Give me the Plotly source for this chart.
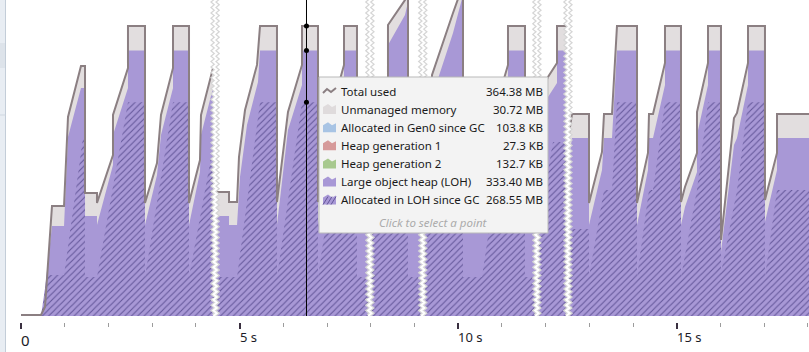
import numpy as np
import plotly.graph_objects as go

# ---------------- data (seconds, MB) ----------------
total_t = [0, 0.457, 0.549, 0.709, 0.984, 1.075, 1.372, 1.464, 1.464, 1.738, 1.738, 2.104, 2.104, 2.447, 2.447,
           2.836, 2.836, 3.111, 3.202, 3.477, 3.477, 3.843, 3.843, 4.094, 4.117, 4.392, 4.437,
           4.460, 4.758, 4.758, 4.941, 4.986, 5.124, 5.398, 5.467, 5.855, 5.855, 6.107, 6.427, 6.427,
           6.793, 6.793, 7.068, 7.091, 7.388, 7.388, 7.685, 7.685, 8.028,
           8.211, 8.394, 8.394, 8.783, 8.852, 8.852, 9.241,
           9.355, 9.401, 9.881, 10.110, 10.110, 10.544, 10.544, 10.819, 10.819, 11.139, 11.139,
           11.528, 11.528, 11.825,
           11.871, 12.054, 12.260, 12.260, 12.489,
           12.511, 12.603, 12.992, 12.992, 13.289, 13.335, 13.518, 13.632, 14.090, 14.090, 14.341,
           14.364, 14.456, 14.730, 14.730, 15.096, 15.096, 15.187, 15.462, 15.462, 15.714, 15.714,
           16.011, 16.011, 16.308, 16.377, 16.629, 16.629, 17.017, 17.017, 17.292, 17.292, 18.024]
total_mb = [1.3, 1.3, 11.3, 138.2, 138.2, 250.0, 314.1, 314.1, 154.5, 154.5, 142.0, 202.3, 252.5, 311.6, 364.4,
            364.4, 142.0, 192.2, 252.5, 311.6, 364.4, 364.4, 142.0, 196.0, 252.5, 311.6, 316.6,
            155.8, 155.8, 143.2, 143.2, 199.8, 258.8, 315.4, 364.4, 364.4, 143.2, 256.3, 315.4, 364.4,
            364.4, 143.2, 202.3, 256.3, 315.4, 364.4, 364.4, 143.2, 143.2,
            208.6, 300.3, 365.6, 397.0, 409.6, 143.2, 143.2,
            208.6, 302.8, 380.7, 415.9, 154.5, 154.5, 142.0, 202.3, 255.1, 315.4, 364.4,
            364.4, 143.2, 143.2,
            275.2, 300.3, 317.9, 364.4, 364.4,
            221.1, 253.8, 253.8, 142.0, 206.1, 253.8, 253.8, 364.4, 364.4, 142.0, 204.8,
            253.8, 253.8, 317.9, 364.4, 364.4, 143.2, 162.1, 204.8, 256.3, 317.9, 364.4,
            364.4, 95.5, 248.8, 255.1, 317.9, 364.4, 364.4, 145.7, 204.8, 253.8, 253.8]

loh_t = [0, 0.480, 0.709, 0.984, 1.075, 1.372, 1.464, 1.464, 1.738, 1.738, 2.104, 2.104, 2.447, 2.447,
         2.836, 2.836, 3.111, 3.202, 3.477, 3.477, 3.843, 3.843, 4.094, 4.117, 4.392, 4.437,
         4.460, 4.758, 4.758, 4.941, 5.009, 5.169, 5.421, 5.467, 5.855, 5.855, 6.107, 6.427, 6.427,
         6.793, 6.793, 7.068, 7.091, 7.388, 7.388, 7.685, 7.685, 8.028,
         8.211, 8.394, 8.394, 8.783, 8.852, 8.852, 9.241,
         9.355, 9.401, 9.881, 10.110, 10.110, 10.544, 10.544, 10.819, 10.819, 11.139, 11.139,
         11.528, 11.528, 11.825,
         11.871, 12.054, 12.260, 12.260, 12.489,
         12.511, 12.603, 12.992, 12.992, 13.289, 13.335, 13.518, 13.632, 14.090, 14.090, 14.341,
         14.364, 14.456, 14.730, 14.730, 15.096, 15.096, 15.187, 15.462, 15.462, 15.714, 15.714,
         16.011, 16.011, 16.308, 16.377, 16.629, 16.629, 17.017, 17.017, 17.292, 17.292, 18.024]
loh_mb = [0, 0, 113.1, 113.1, 224.9, 286.5, 286.5, 125.6, 125.6, 114.3, 189.7, 227.4, 286.5, 333.4,
          333.4, 114.3, 177.2, 227.4, 286.5, 333.4, 333.4, 114.3, 180.9, 227.4, 286.5, 291.5,
          125.6, 125.6, 114.3, 114.3, 174.6, 240.0, 294.0, 333.4, 333.4, 114.3, 233.7, 290.2, 333.4,
          333.4, 114.3, 183.4, 233.7, 290.2, 333.4, 333.4, 114.3, 114.3,
          183.4, 275.2, 340.5, 378.2, 394.5, 114.3, 114.3,
          180.9, 275.2, 355.6, 403.3, 125.6, 125.6, 114.3, 183.4, 227.4, 290.2, 333.4,
          333.4, 114.3, 114.3,
          248.8, 275.2, 292.7, 333.4, 333.4,
          189.7, 223.6, 223.6, 114.3, 183.4, 223.6, 223.6, 333.4, 333.4, 114.3, 183.4,
          223.6, 223.6, 290.2, 333.4, 333.4, 114.3, 137.0, 180.9, 227.4, 290.2, 333.4,
          333.4, 80.4, 214.8, 223.6, 290.2, 333.4, 333.4, 118.1, 183.4, 223.6, 223.6]

loh_gc_t = [0, 0.457, 0.595, 0.984, 1.418, 1.464, 1.464, 1.738, 2.447, 2.836, 2.836, 3.477, 3.843, 3.843,
            4.392, 4.437,
            4.460, 4.941, 5.467, 5.855, 5.855, 6.427, 6.793, 6.793, 7.388, 7.685, 7.685, 7.983,
            8.028, 8.852, 8.852, 9.172,
            9.241, 10.110, 10.110, 10.544, 11.139, 11.528, 11.528, 11.780,
            11.825, 12.168, 12.489,
            12.511, 12.992, 12.992, 13.335, 13.518, 13.632, 14.090, 14.090, 14.364, 14.456, 14.730,
            15.096, 15.096, 15.462, 15.714, 16.011, 16.011, 16.377, 16.629, 17.017, 17.017, 17.292, 18.024]
loh_gc_mb = [0, 0, 51.5, 51.5, 223.6, 223.6, 49.0, 49.0, 268.55, 268.55, 49.0, 268.55, 268.55, 49.0,
             212.3, 216.1,
             49.0, 49.0, 268.55, 268.55, 49.0, 268.55, 268.55, 49.0, 268.55, 268.55, 49.0, 49.0,
             101.8, 258.8, 49.0, 49.0,
             105.5, 258.8, 49.0, 49.0, 268.55, 268.55, 49.0, 49.0,
             108.1, 218.6, 218.6,
             109.3, 109.3, 49.0, 158.3, 158.3, 268.55, 268.55, 49.0, 158.3, 158.3, 268.55,
             268.55, 49.0, 158.3, 268.55, 268.55, 54.0, 158.3, 268.55, 268.55, 49.0, 158.3, 158.3]

break_t = [4.44, 7.98, 9.19, 11.80, 12.51]

hover_t = 6.53
hover_vals = [364.38, 333.40, 268.55]

tick_vals = [0, 5, 10, 15]
tick_text = ["0", "5 s", "10 s", "15 s"]

legend_names = ["Total used", "Unmanaged memory", "Allocated in Gen0 since GC", "Heap generation 1",
                "Heap generation 2", "Large object heap (LOH)", "Allocated in LOH since GC"]
legend_values = ["364.38 MB", "30.72 MB", "103.8 KB", "27.3 KB", "132.7 KB", "333.40 MB", "268.55 MB"]
legend_colors = ["#8b7f82", "#dfdbdc", "#a8c4e4", "#d69a9a", "#a8c98f", "#a898d6", "#a898d6"]

# ---------------- layout helpers ----------------
W, H = 809, 352
PL, PR = 21, 809
PB = 322          # paper bottom in px
PLOT_BOTTOM = 316
X_MAX = 18.024
Y_MAX = 397.0

def fx(p):
    return (p - PL) / (PR - PL)

def fy(p):
    return (PB - p) / PB

PURPLE = "#a898d6"
GRAY_FILL = "#e2dedf"
LINE_COL = "#8b7f82"
HATCH = "#64579a"

fig = go.Figure()
fig.add_trace(go.Scatter(x=total_t, y=total_mb, mode="lines", line=dict(width=0, color=GRAY_FILL),
                         fill="tozeroy", fillcolor=GRAY_FILL, hoverinfo="skip"))
fig.add_trace(go.Scatter(x=loh_t, y=loh_mb, mode="lines", line=dict(width=0, color=PURPLE),
                         fill="tozeroy", fillcolor=PURPLE, hoverinfo="skip"))
fig.add_trace(go.Scatter(x=loh_gc_t, y=loh_gc_mb, mode="lines", line=dict(width=0, color=PURPLE),
                         fill="tozeroy", fillcolor=PURPLE,
                         fillpattern=dict(shape="/", fgcolor=HATCH, bgcolor=PURPLE, size=4.5,
                                          solidity=0.24, fillmode="replace"),
                         hoverinfo="skip"))
fig.add_trace(go.Scatter(x=total_t, y=total_mb, mode="lines", line=dict(width=2, color=LINE_COL),
                         hoverinfo="skip"))

# zig-zag break markers
zy = np.arange(0, Y_MAX + 8, 3.4)
amp = 1.6 / 43.72
for b in break_t:
    zx = [b + (amp if i % 2 else -amp) for i in range(len(zy))]
    fig.add_trace(go.Scatter(x=zx, y=zy, mode="lines", line=dict(width=4.5, color="#d6d6d6"),
                             hoverinfo="skip"))
    fig.add_trace(go.Scatter(x=zx, y=zy, mode="lines", line=dict(width=2, color="#ffffff"),
                             hoverinfo="skip"))

# hover markers
fig.add_trace(go.Scatter(x=[hover_t] * len(hover_vals), y=hover_vals, mode="markers",
                         marker=dict(size=5, color="#000000"), hoverinfo="skip"))

shapes = []
# crosshair
shapes.append(dict(type="line", xref="x", yref="y", x0=hover_t, x1=hover_t, y0=0, y1=Y_MAX,
                   line=dict(color="#000000", width=1)))
# left UI strip
shapes.append(dict(type="rect", xref="paper", yref="paper", x0=fx(0), x1=fx(5.5), y0=fy(H), y1=fy(0),
                   fillcolor="#e8edf3", line=dict(width=0)))
shapes.append(dict(type="rect", xref="paper", yref="paper", x0=fx(0), x1=fx(5.5), y0=fy(68), y1=fy(43),
                   fillcolor="#dde3ea", line=dict(width=0)))
shapes.append(dict(type="line", xref="paper", yref="paper", x0=fx(5.5), x1=fx(5.5), y0=fy(H), y1=fy(0),
                   line=dict(color="#c3cdd8", width=1)))
shapes.append(dict(type="line", xref="paper", yref="paper", x0=fx(0), x1=fx(5.5), y0=fy(115), y1=fy(115),
                   line=dict(color="#cfd7e0", width=1)))

# tooltip box
TX0, TX1, TY0, TY1 = 319, 548, 77, 233
shapes.append(dict(type="rect", xref="paper", yref="paper", x0=fx(TX0), x1=fx(TX1), y0=fy(TY1), y1=fy(TY0),
                   fillcolor="#f3f3f3", line=dict(color="#b9b9b9", width=1)))

annotations = []
row_y = [91 + 18.1 * i for i in range(len(legend_names))]
TEXT_FONT = dict(family="Noto Sans, Open Sans, sans-serif", size=11.5, color="#1a1a1a")
for i, (name, val, col) in enumerate(zip(legend_names, legend_values, legend_colors)):
    y = row_y[i]
    if i == 0:
        path = "M {} {} L {} {} L {} {} L {} {}".format(fx(323), fy(y + 2), fx(327), fy(y - 2),
                                                        fx(331), fy(y + 1), fx(336), fy(y - 3))
        shapes.append(dict(type="path", xref="paper", yref="paper", path=path,
                           line=dict(color=col, width=2)))
    else:
        pts = [(323, y + 5), (323, y - 2), (328, y - 5), (332, y - 2), (336, y - 4), (336, y + 5)]
        path = "M " + " L ".join("{} {}".format(fx(a), fy(b)) for a, b in pts) + " Z"
        shapes.append(dict(type="path", xref="paper", yref="paper", path=path,
                           fillcolor=col, line=dict(width=0)))
        if i == 6:
            for k in range(3):
                x0 = 323 + 4 * k
                shapes.append(dict(type="line", xref="paper", yref="paper",
                                   x0=fx(x0), y0=fy(y + 5), x1=fx(x0 + 5), y1=fy(y - 3),
                                   line=dict(color=HATCH, width=1)))
    annotations.append(dict(xref="paper", yref="paper", x=fx(339), y=fy(y), text=name, showarrow=False,
                            xanchor="left", yanchor="middle", font=TEXT_FONT))
    annotations.append(dict(xref="paper", yref="paper", x=fx(545), y=fy(y), text=val, showarrow=False,
                            xanchor="right", yanchor="middle", font=TEXT_FONT))
annotations.append(dict(xref="paper", yref="paper", x=fx(433), y=fy(222),
                        text="<i>Click to select a point</i>", showarrow=False,
                        xanchor="center", yanchor="middle",
                        font=dict(family="Noto Sans, Open Sans, sans-serif", size=11.5, color="#ababab")))

# tick labels (left aligned at tick)
for v, t in zip(tick_vals, tick_text):
    annotations.append(dict(xref="x", yref="paper", x=v, y=fy(340 if v == 0 else 337), text=t,
                            showarrow=False, xanchor="left", yanchor="middle", xshift=-2,
                            font=dict(family="Noto Sans, Open Sans, sans-serif",
                                      size=15 if v == 0 else 13, color="#1c1c28")))

fig.update_layout(
    width=W, height=H,
    margin=dict(l=PL, r=W - PR, t=0, b=H - PB),
    paper_bgcolor="#ffffff", plot_bgcolor="#ffffff",
    showlegend=False, hovermode=False,
    xaxis=dict(domain=[0, 1], range=[0, X_MAX], anchor="free", position=0,
               showgrid=False, zeroline=False, showline=False,
               tickmode="linear", tick0=0, dtick=5, ticks="outside", ticklen=6, tickwidth=2,
               tickcolor="#3a3040", showticklabels=False,
               minor=dict(tickmode="linear", tick0=0, dtick=1, ticks="outside", ticklen=4,
                          tickwidth=1, tickcolor="#9c9c9c")),
    yaxis=dict(domain=[(PB - PLOT_BOTTOM) / PB, 1], range=[0, Y_MAX], visible=False),
    shapes=shapes, annotations=annotations,
)

fig.write_html("out.html")
